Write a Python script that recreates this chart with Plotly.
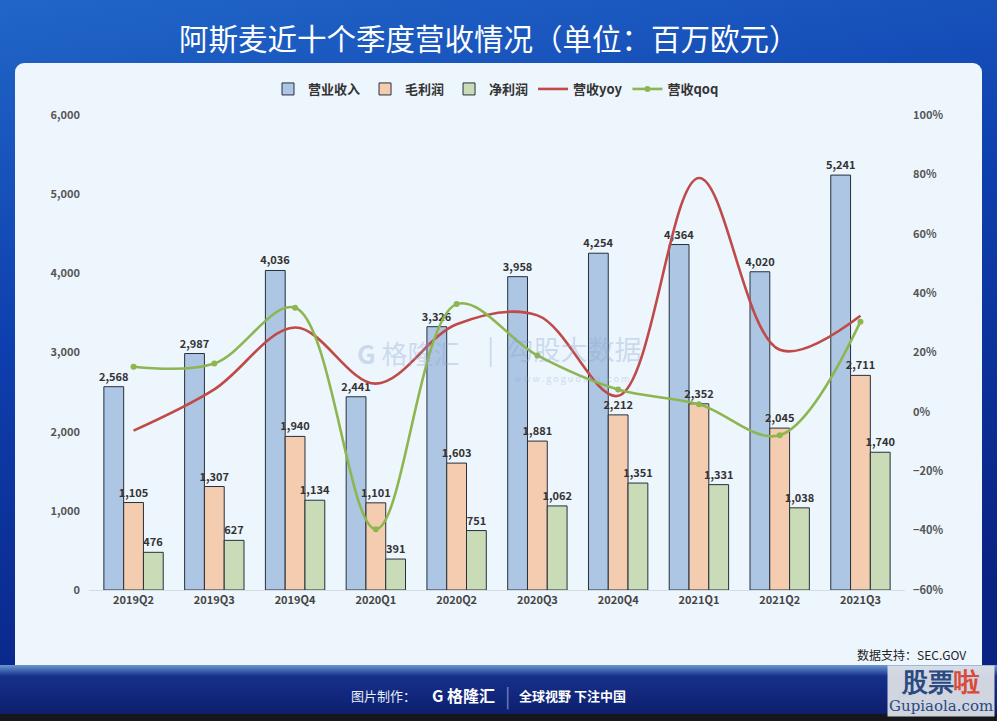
import base64
import plotly.graph_objects as go

# quarterly data, million EUR
quarters = ["2019Q2", "2019Q3", "2019Q4", "2020Q1", "2020Q2",
            "2020Q3", "2020Q4", "2021Q1", "2021Q2", "2021Q3"]
revenue = [2568, 2987, 4036, 2441, 3326, 3958, 4254, 4364, 4020, 5241]
gross_profit = [1105, 1307, 1940, 1101, 1603, 1881, 2212, 2352, 2045, 2711]
net_profit = [476, 627, 1134, 391, 751, 1062, 1351, 1331, 1038, 1740]
# growth rates
rev_yoy = [-0.063, 0.076, 0.284, 0.095, 0.295, 0.325, 0.054, 0.788, 0.209, 0.324]
rev_qoq = [0.152, 0.163, 0.351, -0.395, 0.363, 0.190, 0.075, 0.026, -0.079, 0.304]

FONT = "Noto Sans CJK SC"
W, H = 997, 721
L, R, T, B = 89, 92, 115, 131
PW, PH = W - L - R, H - T - B

# background: blue gradient, light panel, navy footer band
svg = f"""<svg xmlns='http://www.w3.org/2000/svg' width='{W}' height='{H}'>
<defs>
<linearGradient id='bg' x1='0' y1='0' x2='0.25' y2='1'>
<stop offset='0' stop-color='#2166c8'/><stop offset='0.45' stop-color='#0e3fae'/>
<stop offset='1' stop-color='#0a2282'/></linearGradient>
<linearGradient id='ft' x1='0' y1='0' x2='0' y2='1'>
<stop offset='0' stop-color='#6b97d2'/><stop offset='0.2' stop-color='#16308a'/>
<stop offset='1' stop-color='#0b1c6a'/></linearGradient>
</defs>
<rect width='{W}' height='{H}' fill='url(#bg)'/>
<rect x='15' y='63' width='967' height='630' rx='9' fill='#edf5fd'/>
<rect x='0' y='665' width='{W}' height='56' fill='url(#ft)'/>
<rect x='0' y='714' width='{W}' height='7' fill='#15171c'/>
</svg>"""
bg_src = "data:image/svg+xml;base64," + base64.b64encode(svg.encode()).decode()


def px(x):
    return (x - L) / PW


def py(y):
    return (H - B - y) / PH


fig = go.Figure()

bar_style = dict(textposition="outside", texttemplate="%{y:,}", cliponaxis=False,
                 constraintext="none", textangle=0,
                 textfont=dict(family=FONT, size=11, color="#333333", weight="bold"),
                 marker_line=dict(color="#26303c", width=1))
fig.add_trace(go.Bar(x=quarters, y=revenue, name="营业收入",
                     marker_color="#adc6e4", **bar_style))
fig.add_trace(go.Bar(x=quarters, y=gross_profit, name="毛利润",
                     marker_color="#f4cdb0", **bar_style))
fig.add_trace(go.Bar(x=quarters, y=net_profit, name="净利润",
                     marker_color="#c9dcb7", **bar_style))

fig.add_trace(go.Scatter(x=quarters, y=rev_yoy, name="营收yoy", yaxis="y2",
                         mode="lines", line=dict(color="#bf4a48", width=2.6,
                                                 shape="spline", smoothing=1.0)))
fig.add_trace(go.Scatter(x=quarters, y=rev_qoq, name="营收qoq", yaxis="y2",
                         mode="lines+markers", marker=dict(size=6, color="#8db650"),
                         line=dict(color="#8db650", width=2.6,
                                   shape="spline", smoothing=1.0)))

annotations = [
    dict(text="阿斯麦近十个季度营收情况（单位：百万欧元）", x=px(489), y=py(37),
         font=dict(family=FONT, size=29.5, color="white")),
    dict(text="数据支持：SEC.GOV", x=px(968), y=py(654), xanchor="right",
         font=dict(family=FONT, size=12, color="#222222")),
    dict(text="图片制作：", x=px(418), y=py(695), xanchor="right",
         font=dict(family=FONT, size=13, color="#e8eefa")),
    dict(text="<b>G</b> <b>格隆汇</b>", x=px(430), y=py(695), xanchor="left",
         font=dict(family=FONT, size=16, color="white")),
    dict(text="|", x=px(508), y=py(695),
         font=dict(family=FONT, size=20, color="#6d83c0")),
    dict(text="<b>全球视野 下注中国</b>", x=px(517), y=py(695), xanchor="left",
         font=dict(family=FONT, size=13, color="white")),
    # faint watermarks
    dict(text="<b>G</b> 格隆汇", x=px(355), y=py(352), xanchor="left",
         font=dict(family=FONT, size=26, color="rgba(140,165,205,0.35)")),
    dict(text="|  勾股大数据", x=px(485), y=py(348), xanchor="left",
         font=dict(family=FONT, size=27, color="rgba(140,165,205,0.35)")),
    dict(text="w w w . g o g u d a t a . c o m", x=px(512), y=py(378), xanchor="left",
         font=dict(family=FONT, size=9, color="rgba(140,165,205,0.35)")),
    dict(text="<b><span style='font-size:26px'>股票<span style='color:#d94a3a'>啦</span></span></b>"
              "<br>Gupiaola.com",
         x=px(995), y=py(691), xanchor="right", bgcolor="rgba(225,228,232,0.92)",
         borderpad=1, font=dict(family="DejaVu Serif", size=15, color="#2a4a80")),
]
for a in annotations:
    a.setdefault("xref", "paper")
    a.setdefault("yref", "paper")
    a.setdefault("xanchor", "center")
    a.setdefault("yanchor", "middle")
    a.setdefault("showarrow", False)

axis_font = dict(family=FONT, size=11, color="#555555", weight="bold")
fig.update_layout(
    width=W, height=H,
    margin=dict(l=L, r=R, t=T, b=B),
    paper_bgcolor="#0e3fae",
    plot_bgcolor="rgba(0,0,0,0)",
    barmode="group", bargap=0.265, bargroupgap=0,
    font=dict(family=FONT),
    images=[dict(source=bg_src, xref="paper", yref="paper", x=px(0), y=py(0),
                 sizex=W / PW, sizey=H / PH, sizing="stretch",
                 xanchor="left", yanchor="top", layer="below")],
    legend=dict(orientation="h", x=px(496), xanchor="center", y=py(89), yanchor="middle",
                font=dict(family=FONT, size=13, color="#333333", weight="bold"),
                bgcolor="rgba(0,0,0,0)", tracegroupgap=0),
    xaxis=dict(showgrid=False, showline=True, linecolor="#d6dbe2", ticks="",
               tickfont=dict(family=FONT, size=11, color="#444444", weight="bold")),
    yaxis=dict(range=[0, 6000], dtick=1000, tickformat=",", showgrid=False,
               zeroline=False, tickfont=axis_font, ticklabelstandoff=8),
    yaxis2=dict(range=[-0.6, 1.0], dtick=0.2, tickformat=".0%", overlaying="y",
                side="right", showgrid=False, zeroline=False,
                tickfont=axis_font, ticklabelstandoff=7),
    annotations=annotations,
)

fig.write_html("out.html", config={"displayModeBar": False},
               post_script="document.body.style.margin='0';")
